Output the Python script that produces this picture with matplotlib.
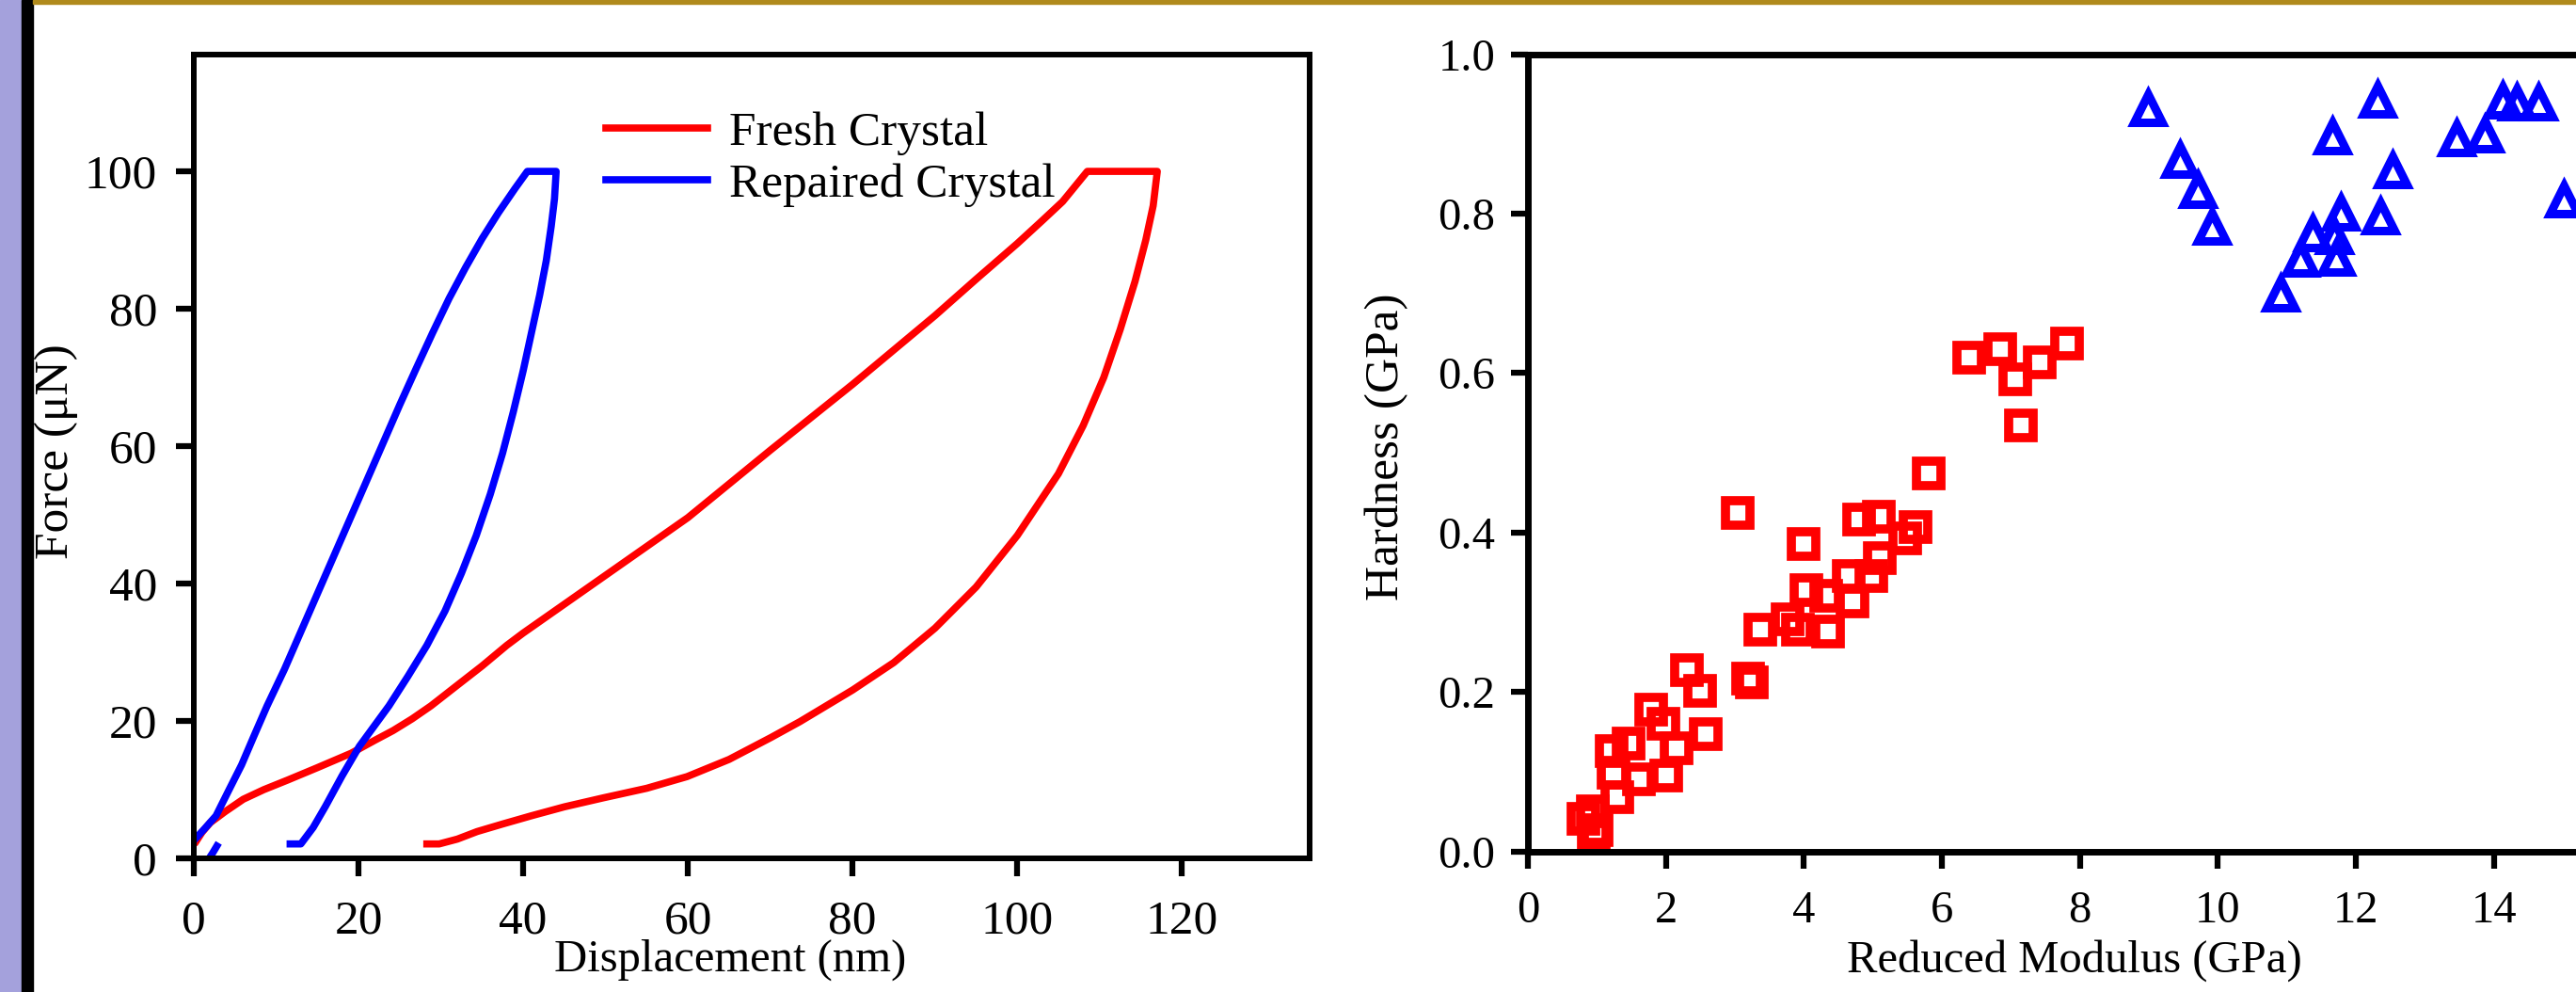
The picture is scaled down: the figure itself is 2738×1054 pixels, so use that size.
import matplotlib.pyplot as plt
from matplotlib.patches import Rectangle

plt.rcParams['font.family'] = ['Liberation Serif', 'DejaVu Serif']

# left panel: load-displacement curves (nm, uN), loading -> hold -> unloading
fresh_disp = [0.3, 1.0, 2.0, 3.8, 6.0, 8.5, 11.4, 15.0, 19.1, 22.0, 24.2, 26.5, 28.8, 32.0,
              35.0, 38.0, 40.0, 45.0, 50.0, 55.0, 60.0, 65.0, 70.0, 75.0, 80.0, 85.0, 90.0,
              95.0, 100.0, 103.0, 105.5, 108.5, 117.0,
              116.5, 115.6, 114.3, 112.5, 110.5, 108.0, 105.0, 100.0, 95.0, 90.0, 85.0,
              80.0, 73.6, 70.1, 65.0, 59.9, 55.0, 49.7, 45.0, 41.0, 37.5, 34.4, 32.0,
              29.8, 28.3]
fresh_force = [2.5, 3.8, 5.2, 6.8, 8.6, 10.0, 11.4, 13.2, 15.3, 17.2, 18.6, 20.3, 22.2, 25.2,
               28.0, 31.0, 32.8, 37.0, 41.2, 45.4, 49.6, 54.5, 59.4, 64.2, 69.0, 74.0, 79.0,
               84.3, 89.5, 92.8, 95.6, 100.0, 100.0,
               95.0, 90.0, 84.0, 77.0, 70.0, 63.0, 56.0, 47.0, 39.5, 33.5, 28.5,
               24.5, 19.9, 17.6, 14.4, 11.9, 10.2, 8.8, 7.5, 6.2, 5.0, 3.9, 2.8,
               2.1, 2.1]
repaired_disp = [0.0, 1.3, 2.7, 4.2, 5.8, 7.3, 8.9, 11.0, 13.0, 15.0, 17.0, 19.0, 21.0,
                 23.0, 25.0, 27.0, 29.0, 31.0, 33.0, 35.0, 37.0, 39.0, 40.5, 44.0,
                 43.8, 43.4, 42.8, 42.0, 41.0, 40.0, 38.8, 37.5, 36.0, 34.3, 32.5, 30.5,
                 28.3, 26.0, 23.7, 20.1, 18.0, 16.0, 14.5, 13.0, 11.7]
repaired_force = [2.6, 4.3, 6.2, 9.8, 13.6, 17.8, 22.2, 27.5, 33.0, 38.5, 44.0, 49.5, 55.0,
                  60.5, 66.0, 71.3, 76.5, 81.5, 86.0, 90.2, 94.0, 97.5, 100.0, 100.0,
                  96.0, 92.0, 87.0, 82.0, 76.5, 71.0, 65.0, 59.0, 53.0, 47.0, 41.5, 36.0,
                  31.0, 26.5, 22.2, 16.3, 12.0, 7.6, 4.5, 2.1, 2.1]
repaired_tail_disp = [1.7, 2.3, 2.8]
repaired_tail_force = [-0.3, 0.8, 1.8]

# right panel: hardness vs reduced modulus (GPa)
fresh_modulus = [6.39, 6.84, 7.06, 7.42, 7.82, 7.14, 5.81, 3.04, 3.99, 4.80, 5.08, 5.62,
                 5.47, 5.10, 4.98, 4.65, 4.71, 4.32, 4.04, 3.77, 3.92, 4.35, 3.37, 3.25,
                 3.19, 2.31, 2.49, 1.79, 2.58, 2.15, 1.96, 1.46, 1.21, 2.00, 1.61, 1.24,
                 1.30, 0.94, 0.81, 1.00, 0.95]
fresh_hardness = [0.619, 0.630, 0.592, 0.614, 0.637, 0.535, 0.474, 0.425, 0.386, 0.416,
                  0.420, 0.407, 0.393, 0.368, 0.346, 0.346, 0.314, 0.321, 0.328, 0.291,
                  0.278, 0.276, 0.278, 0.212, 0.217, 0.228, 0.201, 0.178, 0.147, 0.129,
                  0.160, 0.135, 0.126, 0.095, 0.090, 0.099, 0.068, 0.050, 0.041, 0.027,
                  0.022]
repaired_modulus = [8.98, 9.45, 9.71, 9.92, 10.91, 11.20, 11.37, 11.71, 11.69, 11.78, 11.66,
                    12.32, 12.53, 12.35, 13.46, 13.87, 14.13, 14.33, 14.64, 15.02]
repaired_hardness = [0.932, 0.867, 0.830, 0.783, 0.700, 0.743, 0.775, 0.745, 0.772, 0.801,
                     0.897, 0.943, 0.854, 0.797, 0.895, 0.899, 0.942, 0.939, 0.940, 0.818]

fig = plt.figure(figsize=(27.38, 10.54), dpi=100)

# slide decoration (purple margin, black rule, gold top band)
fig.patches.append(Rectangle((0, 0), 23 / 2738, 1, transform=fig.transFigure,
                             color='#A4A1DC', zorder=0))
fig.patches.append(Rectangle((23 / 2738, 0), 12 / 2738, 1, transform=fig.transFigure,
                             color='black', zorder=0))
fig.patches.append(Rectangle((35 / 2738, 1 - 4 / 1054), 1, 4 / 1054, transform=fig.transFigure,
                             color='#B08A1C', zorder=0))

# ---- left: force vs displacement
ax1 = fig.add_axes([206 / 2738, 142 / 1054, 1186 / 2738, 854 / 1054])
ax1.plot(fresh_disp, fresh_force, color='#FF0000', lw=5.5, label='Fresh Crystal')
ax1.plot(repaired_disp, repaired_force, color='#0000FF', lw=5.5, label='Repaired Crystal')
ax1.plot(repaired_tail_disp, repaired_tail_force, color='#0000FF', lw=5.5)
ax1.set_xlim(0, 135.5)
ax1.set_ylim(0, 117)
ax1.set_xticks([0, 20, 40, 60, 80, 100, 120])
ax1.set_yticks([0, 20, 40, 60, 80, 100])
ax1.tick_params(direction='out', length=14, width=4.5, labelsize=37, pad=14)
ax1.tick_params(axis='x', pad=18)
for s in ax1.spines.values():
    s.set_linewidth(4.3)
ax1.set_xlabel('Displacement (nm)', fontsize=35)
ax1.set_ylabel('Force (\u03bcN)', fontsize=37)
ax1.xaxis.set_label_coords(0.481, -0.1007)
ax1.yaxis.set_label_coords(-0.104, 0.506)
ax1.legend(loc='upper left', bbox_to_anchor=(0.369, 0.930), frameon=False, fontsize=37,
           handlelength=2.1, handletextpad=0.45, labelspacing=0.17, borderpad=0,
           borderaxespad=0)

# ---- right: hardness vs reduced modulus
ax2 = fig.add_axes([1624 / 2738, 149.4 / 1054, 1210 / 2738, 846.9 / 1054])
ax2.plot(fresh_modulus, fresh_hardness, ls='none', marker='s', ms=19, mew=7,
         mfc='none', mec='#FF0000')
ax2.plot(repaired_modulus, repaired_hardness, ls='none', marker='^', ms=22, mew=6.5,
         mfc='none', mec='#0000FF')
ax2.set_xlim(0, 16.5)
ax2.set_ylim(0, 1.0)
ax2.set_xticks([0, 2, 4, 6, 8, 10, 12, 14])
ax2.set_yticks([0.0, 0.2, 0.4, 0.6, 0.8, 1.0])
ax2.set_yticklabels(['0.0', '0.2', '0.4', '0.6', '0.8', '1.0'])
ax2.tick_params(direction='out', length=13, width=4.5, labelsize=35, pad=12)
ax2.tick_params(axis='x', pad=17)
for s in ax2.spines.values():
    s.set_linewidth(5)
ax2.set_xlabel('Reduced Modulus (GPa)', fontsize=35)
ax2.set_ylabel('Hardness (GPa)', fontsize=37)
ax2.xaxis.set_label_coords(0.480, -0.1103)
ax2.yaxis.set_label_coords(-0.105, 0.507)

fig.savefig('out.png', dpi=100)
